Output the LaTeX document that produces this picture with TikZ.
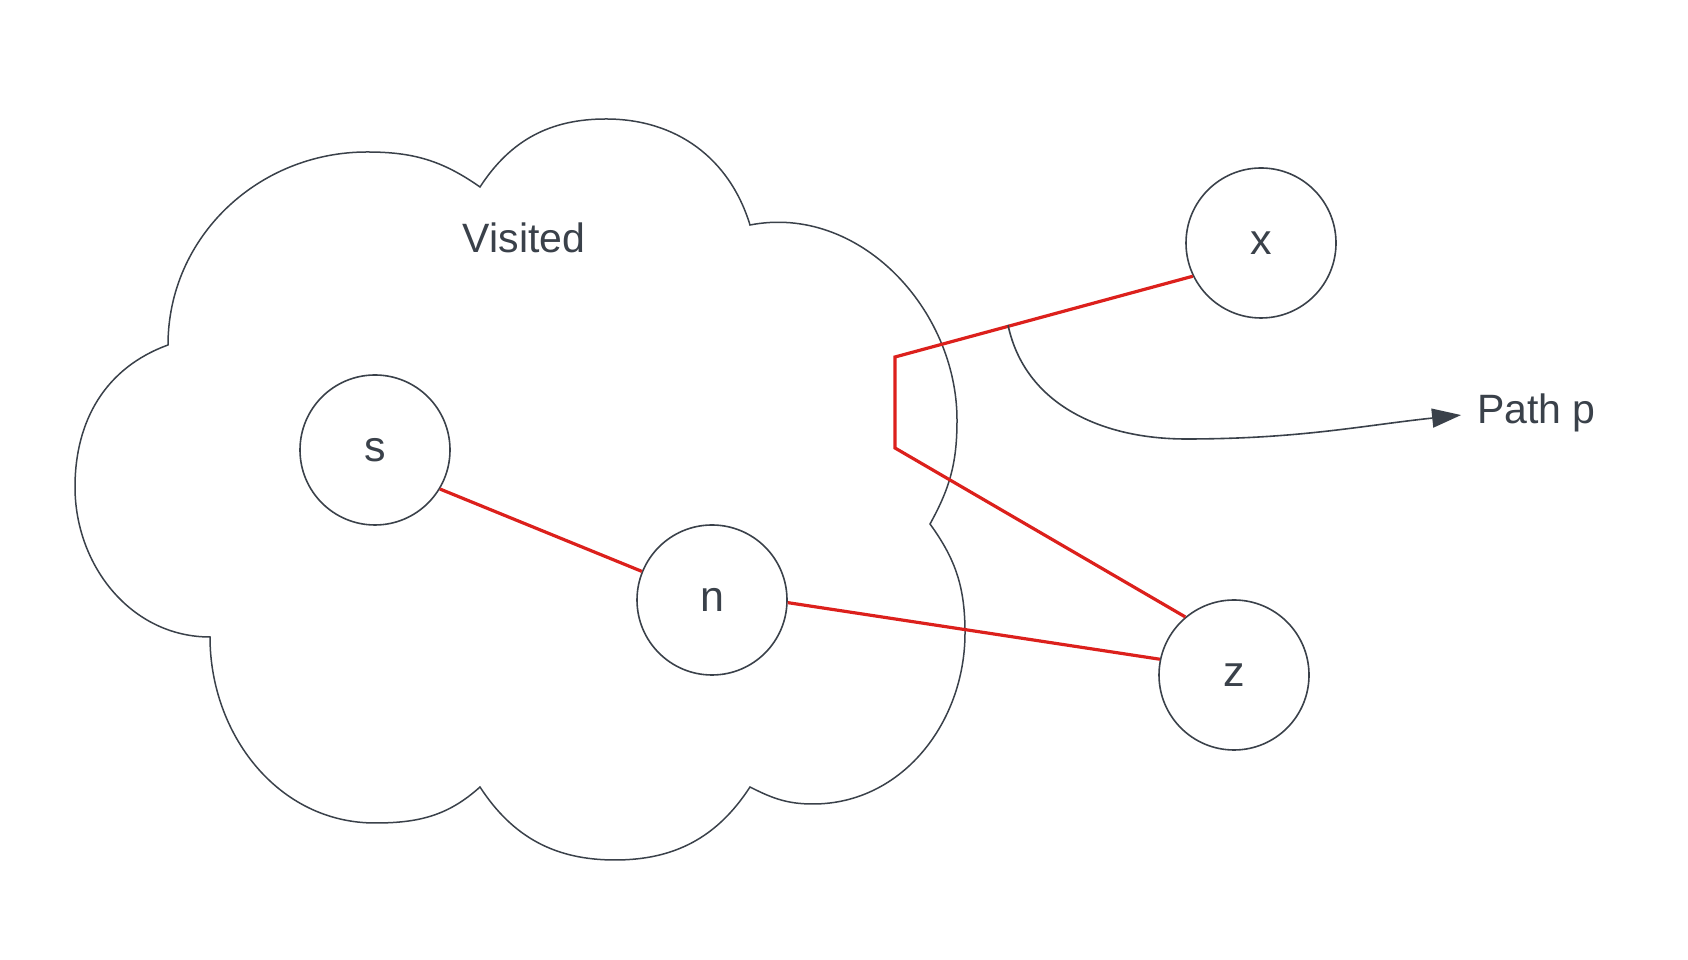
\documentclass[tikz,border=0pt]{standalone}
\usepackage{fontspec}
\setmainfont{Liberation Sans}
\usetikzlibrary{arrows.meta}
\definecolor{inkgray}{RGB}{58,65,74}
\definecolor{pathred}{RGB}{220,32,28}

\begin{document}
\begin{tikzpicture}[x=1pt, y=1pt,
            vertex/.style={circle, draw=inkgray, line width=1.6pt, minimum size=150pt, inner sep=0pt, text=inkgray, font=\fontsize{43}{50}\selectfont},
            lbl/.style={inner sep=0pt, text=inkgray, font=\fontsize{41}{48}\selectfont},
            cloudline/.style={draw=inkgray, line width=1.5pt},
            redge/.style={draw=pathred, line width=3.2pt},
            pathline/.style={draw=inkgray, line width=1.6pt}]
            \useasboundingbox (0,0) rectangle (1688,960);

            % Visited cloud
            \draw[cloudline] (168,615)
                to[out=90,in=180] (367,808) to[out=0,in=145] (480,773)
                to[out=57,in=180] (606,841) to[out=0,in=107] (750,735)
                to[out=11,in=90] (957,540) to[out=-90,in=61] (930,436)
                to[out=-54,in=90] (965,327) to[out=-90,in=0] (813,156)
                to[out=180,in=-27] (750,173)
                to[out=-123,in=0] (615,100) to[out=180,in=-57] (480,173)
                to[out=-138,in=0] (375,137) to[out=180,in=-90] (210,323)
                to[out=180,in=-90] (75,473) to[out=90,in=-160] (168,615) -- cycle;
            \node[lbl, anchor=base] (visited) at (524,707) {Visited};

            % Define vertices
            \node[vertex] (s) at (375,510) {s};
            \node[vertex] (n) at (712,360) {n};
            \node[vertex] (x) at (1261,717) {x};
            \node[vertex] (z) at (1234,285) {z};

            % Bend points
            \coordinate (b1) at (895,603);
            \coordinate (b2) at (895,512);
            \coordinate (pstart) at (1008,635);
            \coordinate (plow) at (1186,521);

            % Draw edges
            \draw[redge] (s.-31) -- (n);
            \draw[redge] (n.-2) -- (z.168);
            \draw[redge] (x.206) -- (b1) -- (b2) -- (z.130);

            % Path p
            \node[lbl, anchor=base west] (pathlbl) at (1477,536) {Path p};
            \draw[pathline, -{Triangle[length=29pt,width=19pt]}, shorten >=16pt]
                (pstart) to[out=-78,in=180] (plow) to[out=0,in=186] (pathlbl.west);
        \end{tikzpicture}
\end{document}
